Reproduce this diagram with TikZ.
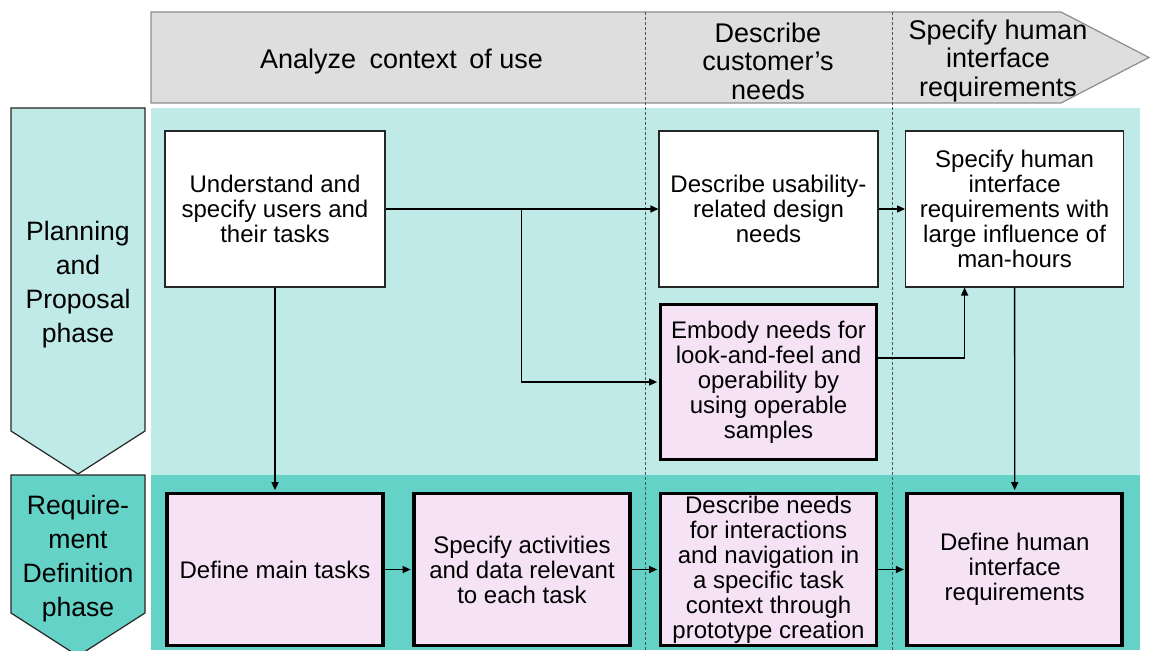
\documentclass[tikz,border=0pt]{standalone}
\usepackage{fontspec}
\setmainfont{Liberation Sans}
\usetikzlibrary{arrows.meta,calc}
\definecolor{hdrgray}{HTML}{DEDEDE}
\definecolor{hdredge}{HTML}{8C8C8C}
\definecolor{planteal}{HTML}{BFEAE7}
\definecolor{reqteal}{HTML}{64D2C6}
\definecolor{taskpink}{HTML}{F5E3F5}
\definecolor{inkgray}{HTML}{262626}
\tikzset{
  phaseshape/.style={draw=inkgray, line width=1.2pt},
  phasetext/.style={align=center, inner sep=0pt, font=\fontsize{26.6}{34}\selectfont},
  headtext/.style={align=center, inner sep=0pt, font=\fontsize{27}{28.5}\selectfont},
  divider/.style={draw=inkgray!80, line width=0.7pt, dash pattern=on 3pt off 2pt},
  plainbox/.style={draw=inkgray, fill=white, line width=1.1pt, inner sep=0pt,
    minimum width=219pt, minimum height=156pt, align=center,
    font=\fontsize{24}{25}\selectfont},
  taskbox/.style={draw=black, fill=taskpink, line width=3.7pt, inner sep=0pt,
    minimum width=216pt, align=center, font=\fontsize{24}{25}\selectfont},
  conn/.style={draw=black, line width=1.3pt, -{Triangle[length=8pt,width=7pt]}},
}
\begin{document}
\begin{tikzpicture}[x=1pt,y=-1pt]
\useasboundingbox (0,0) rectangle (1150,650);
\clip (0,0) rectangle (1150,650);

% swimlane backgrounds
\fill[planteal] (151,108) rectangle (1139.5,475);
\fill[reqteal] (151,475) rectangle (1139.5,650);

% process header arrow
\draw[fill=hdrgray, draw=hdredge, line width=1.2pt]
  (151,12) -- (1061,12) -- (1149,57.5) -- (1061,103) -- (151,103) -- cycle;

% column dividers
\draw[divider] (645,12) -- (645,650);
\draw[divider] (892,12) -- (892,650);

% phase arrows
\draw[phaseshape, fill=planteal] (11,108) -- (145,108) -- (145,431) -- (78,474) -- (11,431) -- cycle;
\draw[phaseshape, fill=reqteal] (11,475) -- (145,475) -- (145,613) -- (78,656) -- (11,613) -- cycle;
\node[phasetext] (planphase) at (78,285) {Planning\\and\\Proposal\\phase};
\node[phasetext] (reqphase) at (78,559) {Require-\\ment\\Definition\\phase};

% header labels
\node[headtext] (hcontext) at (401.5,61.5) {Analyze\hspace{6pt} context\hspace{5pt} of use};
\node[headtext] (hneeds) at (768,61) {Describe\\customer’s\\needs};
\node[headtext] (hreq) at (998,61) {Specify human\\interface\\requirements};

% planning phase boxes
\node[plainbox, minimum width=220pt] (understand) at (275,209) {Understand and\\specify users and\\their tasks};
\node[plainbox] (usability) at (768.5,209) {Describe usability-\\related design\\needs};
\node[plainbox, minimum width=218pt] (influence) at (1014.6,209) {Specify human\\interface\\requirements with\\large influence of\\man-hours};
\node[taskbox, minimum height=155pt] (embody) at (768.5,382) {Embody needs for\\look-and-feel and\\operability by\\using operable\\samples};

% requirement definition boxes
\node[taskbox, minimum height=152pt] (maintasks) at (275,569.5) {Define main tasks};
\node[taskbox, minimum height=152pt] (activities) at (522,569.5) {Specify activities\\and data relevant\\to each task};
\node[taskbox, minimum height=152pt] (interact) at (768.5,569.5) {Describe needs\\for interactions\\and navigation in\\a specific task\\context through\\prototype creation};
\node[taskbox, minimum height=152pt, minimum width=215pt] (definehi) at (1014.7,569.5) {Define human\\interface\\requirements};

% connectors
\coordinate (split) at (521.6,209);
\draw[conn] (understand.east) -- (usability.west);
\draw[conn, shorten >=1.5pt] (split) |- (embody.west);
\draw[conn] (usability.east) -- (influence.west);
\draw[conn] ([yshift=24pt]embody.east) -| ([xshift=-50pt]influence.south);
\draw[conn, shorten >=1.5pt] (influence.south) -- (definehi.north);
\draw[conn, shorten >=1.5pt] (understand.south) -- (maintasks.north);
\draw[conn, shorten >=1.5pt] (maintasks.east) -- (activities.west);
\draw[conn, shorten >=1.5pt] (activities.east) -- (interact.west);
\draw[conn, shorten >=1.5pt] (interact.east) -- (definehi.west);
\end{tikzpicture}
\end{document}
